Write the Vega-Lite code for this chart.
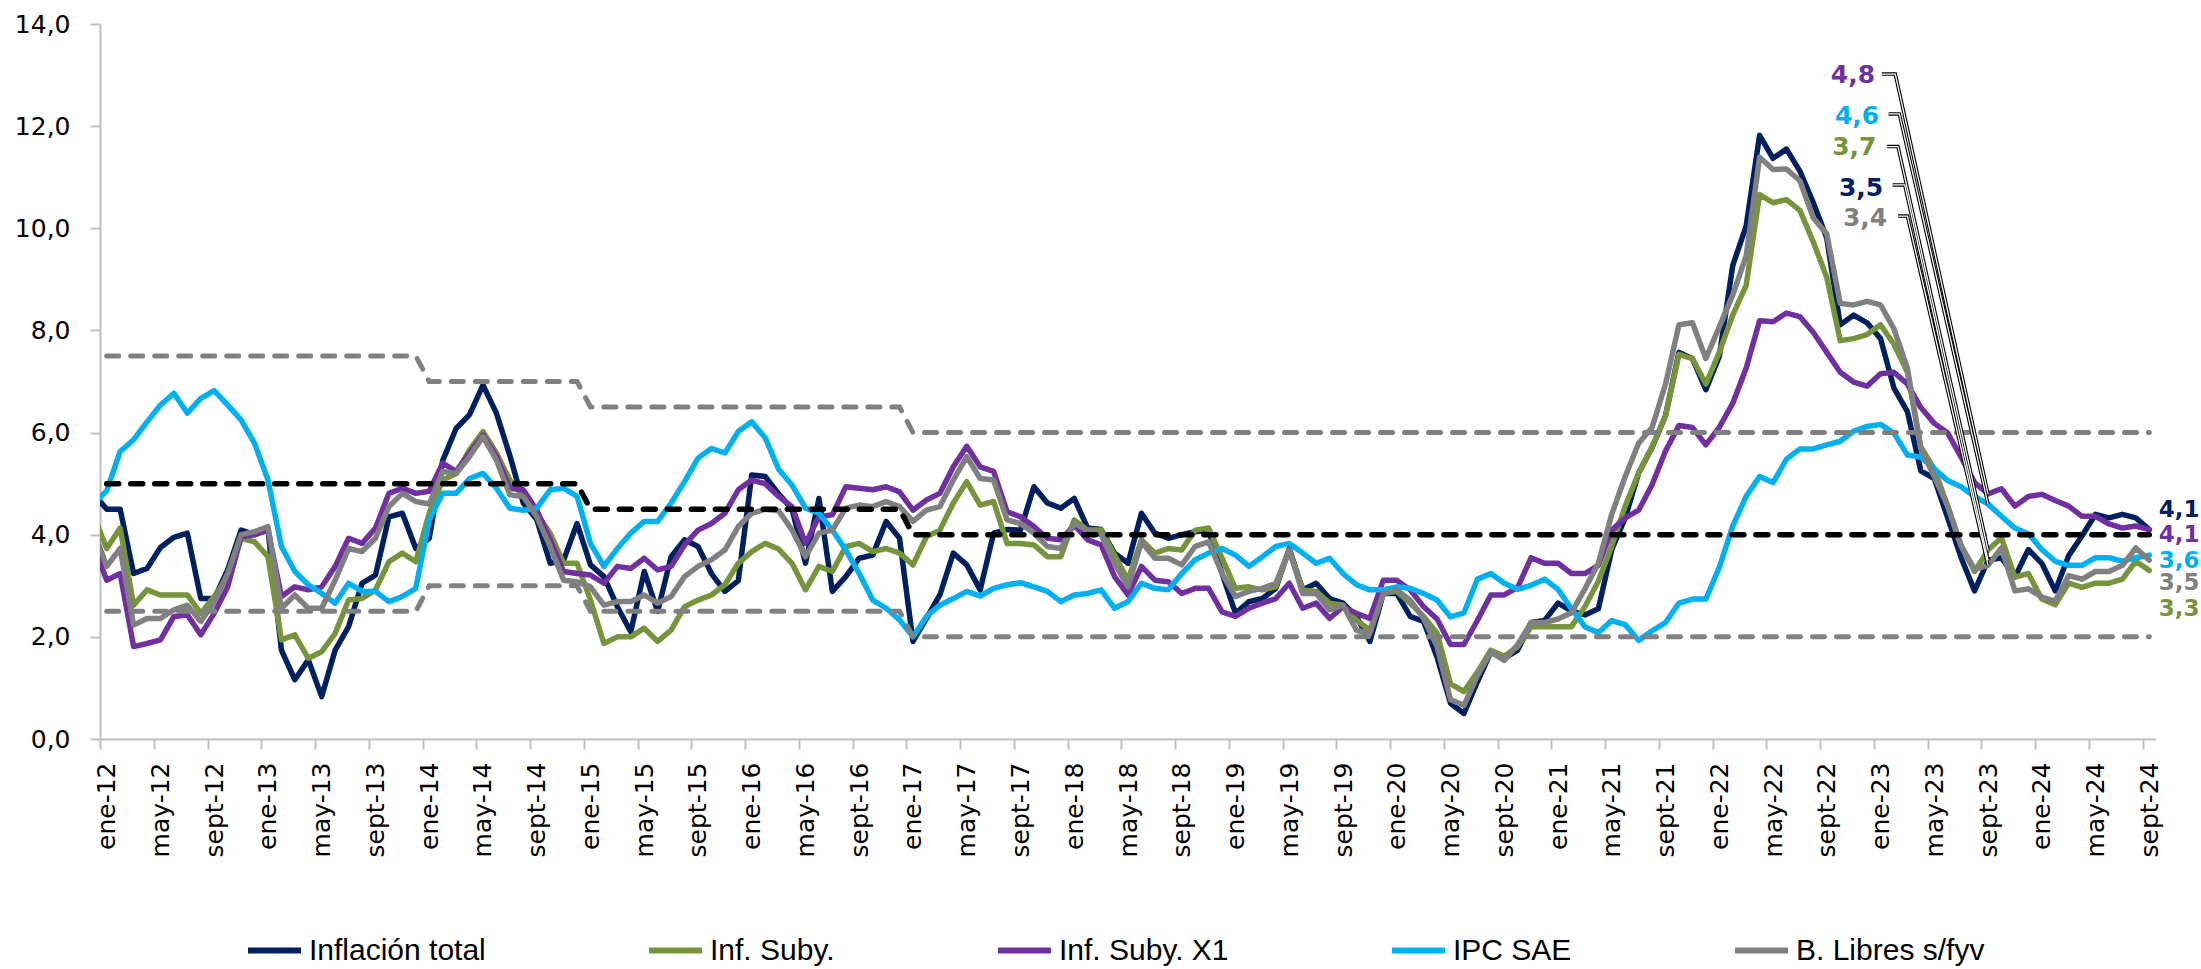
{
 "$schema": "https://vega.github.io/schema/vega-lite/v6.json",
 "width": 2056, "height": 715,
 "autosize": "none",
 "padding": {"left": 100, "top": 24, "right": 45, "bottom": 230},
 "background": "white",
 "config": {"view": {"stroke": null}, "font": "DejaVu Sans"},
 "datasets": {
  "serie": [
   {"i":-1,"t":4.8,"s":4.4,"x":3.8,"e":4.6,"b":4.1},
   {"i":0,"t":4.5,"s":3.73,"x":3.11,"e":4.86,"b":3.38},
   {"i":1,"t":4.5,"s":4.13,"x":3.24,"e":5.63,"b":3.73},
   {"i":2,"t":3.24,"s":2.62,"x":1.81,"e":5.86,"b":2.23},
   {"i":3,"t":3.34,"s":2.92,"x":1.87,"e":6.21,"b":2.36},
   {"i":4,"t":3.75,"s":2.82,"x":1.94,"e":6.54,"b":2.36},
   {"i":5,"t":3.95,"s":2.82,"x":2.4,"e":6.77,"b":2.53},
   {"i":6,"t":4.03,"s":2.82,"x":2.43,"e":6.38,"b":2.62},
   {"i":7,"t":2.75,"s":2.46,"x":2.04,"e":6.67,"b":2.3},
   {"i":8,"t":2.75,"s":2.79,"x":2.46,"e":6.82,"b":2.69},
   {"i":9,"t":3.31,"s":3.18,"x":2.98,"e":6.54,"b":3.24},
   {"i":10,"t":4.09,"s":3.93,"x":3.96,"e":6.25,"b":4.0},
   {"i":11,"t":4.0,"s":3.86,"x":4.0,"e":5.79,"b":4.06},
   {"i":12,"t":4.1,"s":3.57,"x":4.09,"e":5.07,"b":4.16},
   {"i":13,"t":1.74,"s":1.94,"x":2.79,"e":3.77,"b":2.56},
   {"i":14,"t":1.16,"s":2.04,"x":2.98,"e":3.28,"b":2.82},
   {"i":15,"t":1.55,"s":1.58,"x":2.92,"e":3.02,"b":2.56},
   {"i":16,"t":0.83,"s":1.71,"x":2.98,"e":2.85,"b":2.56},
   {"i":17,"t":1.74,"s":2.07,"x":3.38,"e":2.66,"b":3.11},
   {"i":18,"t":2.2,"s":2.72,"x":3.93,"e":3.05,"b":3.73},
   {"i":19,"t":3.05,"s":2.75,"x":3.83,"e":2.89,"b":3.67},
   {"i":20,"t":3.21,"s":2.92,"x":4.13,"e":2.89,"b":3.93},
   {"i":21,"t":4.35,"s":3.47,"x":4.81,"e":2.69,"b":4.55},
   {"i":22,"t":4.42,"s":3.64,"x":4.91,"e":2.79,"b":4.81},
   {"i":23,"t":3.73,"s":3.47,"x":4.81,"e":2.95,"b":4.65},
   {"i":24,"t":3.93,"s":4.42,"x":4.85,"e":4.29,"b":4.6},
   {"i":25,"t":5.45,"s":5.07,"x":5.4,"e":4.81,"b":5.24},
   {"i":26,"t":6.08,"s":5.2,"x":5.24,"e":4.81,"b":5.2},
   {"i":27,"t":6.35,"s":5.66,"x":5.6,"e":5.1,"b":5.53},
   {"i":28,"t":6.93,"s":6.02,"x":5.95,"e":5.2,"b":5.92},
   {"i":29,"t":6.38,"s":5.6,"x":5.53,"e":4.91,"b":5.46},
   {"i":30,"t":5.55,"s":5.07,"x":4.91,"e":4.52,"b":4.78},
   {"i":31,"t":4.62,"s":4.75,"x":4.88,"e":4.48,"b":4.75},
   {"i":32,"t":4.3,"s":4.42,"x":4.48,"e":4.52,"b":4.35},
   {"i":33,"t":3.44,"s":4.03,"x":3.9,"e":4.88,"b":3.77},
   {"i":34,"t":3.5,"s":3.44,"x":3.28,"e":4.91,"b":3.11},
   {"i":35,"t":4.22,"s":3.44,"x":3.24,"e":4.75,"b":3.08},
   {"i":36,"t":3.41,"s":2.72,"x":3.21,"e":3.83,"b":2.98},
   {"i":37,"t":3.18,"s":1.87,"x":3.05,"e":3.38,"b":2.62},
   {"i":38,"t":2.59,"s":2.0,"x":3.38,"e":3.73,"b":2.69},
   {"i":39,"t":2.1,"s":2.0,"x":3.34,"e":4.03,"b":2.69},
   {"i":40,"t":3.28,"s":2.17,"x":3.54,"e":4.26,"b":2.82},
   {"i":41,"t":2.5,"s":1.91,"x":3.31,"e":4.26,"b":2.66},
   {"i":42,"t":3.57,"s":2.13,"x":3.38,"e":4.62,"b":2.79},
   {"i":43,"t":3.9,"s":2.59,"x":3.8,"e":5.04,"b":3.18},
   {"i":44,"t":3.77,"s":2.72,"x":4.09,"e":5.5,"b":3.38},
   {"i":45,"t":3.24,"s":2.82,"x":4.22,"e":5.69,"b":3.51},
   {"i":46,"t":2.89,"s":3.02,"x":4.42,"e":5.6,"b":3.7},
   {"i":47,"t":3.1,"s":3.44,"x":4.88,"e":6.02,"b":4.16},
   {"i":48,"t":5.17,"s":3.67,"x":5.07,"e":6.21,"b":4.42},
   {"i":49,"t":5.14,"s":3.83,"x":5.0,"e":5.9,"b":4.5},
   {"i":50,"t":4.8,"s":3.72,"x":4.75,"e":5.28,"b":4.47},
   {"i":51,"t":4.5,"s":3.44,"x":4.55,"e":4.97,"b":4.09},
   {"i":52,"t":3.44,"s":2.92,"x":3.83,"e":4.52,"b":3.57},
   {"i":53,"t":4.71,"s":3.38,"x":4.35,"e":4.42,"b":4.03},
   {"i":54,"t":2.89,"s":3.28,"x":4.39,"e":4.09,"b":4.09},
   {"i":55,"t":3.18,"s":3.77,"x":4.94,"e":3.7,"b":4.52},
   {"i":56,"t":3.54,"s":3.83,"x":4.91,"e":3.24,"b":4.58},
   {"i":57,"t":3.6,"s":3.67,"x":4.88,"e":2.72,"b":4.55},
   {"i":58,"t":4.26,"s":3.73,"x":4.94,"e":2.56,"b":4.65},
   {"i":59,"t":3.93,"s":3.64,"x":4.84,"e":2.33,"b":4.55},
   {"i":60,"t":1.91,"s":3.41,"x":4.48,"e":2.0,"b":4.26},
   {"i":61,"t":2.36,"s":3.96,"x":4.68,"e":2.4,"b":4.48},
   {"i":62,"t":2.82,"s":4.09,"x":4.81,"e":2.62,"b":4.55},
   {"i":63,"t":3.64,"s":4.62,"x":5.33,"e":2.75,"b":5.07},
   {"i":64,"t":3.41,"s":5.04,"x":5.73,"e":2.89,"b":5.53},
   {"i":65,"t":2.92,"s":4.58,"x":5.33,"e":2.8,"b":5.1},
   {"i":66,"t":4.03,"s":4.65,"x":5.24,"e":2.95,"b":5.07},
   {"i":67,"t":4.1,"s":3.83,"x":4.45,"e":3.02,"b":4.29},
   {"i":68,"t":4.09,"s":3.83,"x":4.35,"e":3.06,"b":4.22},
   {"i":69,"t":4.94,"s":3.8,"x":4.16,"e":2.98,"b":4.03},
   {"i":70,"t":4.62,"s":3.57,"x":3.93,"e":2.89,"b":3.77},
   {"i":71,"t":4.52,"s":3.57,"x":3.9,"e":2.69,"b":3.73},
   {"i":72,"t":4.71,"s":4.29,"x":4.19,"e":2.82,"b":4.22},
   {"i":73,"t":4.13,"s":4.09,"x":3.9,"e":2.85,"b":4.09},
   {"i":74,"t":4.1,"s":4.09,"x":3.8,"e":2.92,"b":4.0},
   {"i":75,"t":3.64,"s":3.6,"x":3.18,"e":2.56,"b":3.44},
   {"i":76,"t":3.44,"s":3.11,"x":2.82,"e":2.69,"b":2.98},
   {"i":77,"t":4.42,"s":3.9,"x":3.38,"e":3.05,"b":3.86},
   {"i":78,"t":4.03,"s":3.64,"x":3.11,"e":2.95,"b":3.54},
   {"i":79,"t":3.93,"s":3.73,"x":3.08,"e":2.92,"b":3.54},
   {"i":80,"t":4.0,"s":3.7,"x":2.85,"e":3.24,"b":3.41},
   {"i":81,"t":4.06,"s":4.09,"x":2.95,"e":3.51,"b":3.77},
   {"i":82,"t":4.09,"s":4.13,"x":2.95,"e":3.64,"b":3.86},
   {"i":83,"t":3.24,"s":3.54,"x":2.49,"e":3.73,"b":3.24},
   {"i":84,"t":2.46,"s":2.95,"x":2.4,"e":3.6,"b":2.79},
   {"i":85,"t":2.69,"s":2.98,"x":2.56,"e":3.38,"b":2.89},
   {"i":86,"t":2.75,"s":2.92,"x":2.66,"e":3.57,"b":2.95},
   {"i":87,"t":2.95,"s":2.98,"x":2.75,"e":3.77,"b":3.05},
   {"i":88,"t":3.73,"s":3.7,"x":3.05,"e":3.83,"b":3.7},
   {"i":89,"t":2.92,"s":2.92,"x":2.56,"e":3.64,"b":2.85},
   {"i":90,"t":3.05,"s":2.89,"x":2.66,"e":3.44,"b":2.85},
   {"i":91,"t":2.75,"s":2.66,"x":2.36,"e":3.54,"b":2.53},
   {"i":92,"t":2.66,"s":2.62,"x":2.59,"e":3.24,"b":2.62},
   {"i":93,"t":2.4,"s":2.33,"x":2.46,"e":3.02,"b":2.13},
   {"i":94,"t":1.91,"s":2.13,"x":2.36,"e":2.92,"b":2.07},
   {"i":95,"t":2.85,"s":2.85,"x":3.11,"e":2.92,"b":2.85},
   {"i":96,"t":2.85,"s":2.89,"x":3.11,"e":2.98,"b":2.92},
   {"i":97,"t":2.4,"s":2.66,"x":2.92,"e":2.95,"b":2.72},
   {"i":98,"t":2.3,"s":2.4,"x":2.59,"e":2.85,"b":2.36},
   {"i":99,"t":1.6,"s":2.07,"x":2.35,"e":2.72,"b":1.81},
   {"i":100,"t":0.7,"s":1.08,"x":1.85,"e":2.39,"b":0.77},
   {"i":101,"t":0.5,"s":0.93,"x":1.85,"e":2.47,"b":0.66},
   {"i":102,"t":1.12,"s":1.31,"x":2.32,"e":3.13,"b":1.24},
   {"i":103,"t":1.7,"s":1.74,"x":2.82,"e":3.24,"b":1.7},
   {"i":104,"t":1.58,"s":1.62,"x":2.82,"e":3.05,"b":1.54},
   {"i":105,"t":1.74,"s":1.81,"x":2.97,"e":2.93,"b":1.85},
   {"i":106,"t":2.28,"s":2.2,"x":3.55,"e":3.01,"b":2.28},
   {"i":107,"t":2.32,"s":2.2,"x":3.44,"e":3.13,"b":2.28},
   {"i":108,"t":2.66,"s":2.2,"x":3.44,"e":2.93,"b":2.35},
   {"i":109,"t":2.51,"s":2.2,"x":3.24,"e":2.55,"b":2.47},
   {"i":110,"t":2.43,"s":2.59,"x":3.24,"e":2.2,"b":2.94},
   {"i":111,"t":2.55,"s":3.09,"x":3.4,"e":2.08,"b":3.44},
   {"i":112,"t":3.71,"s":3.78,"x":4.09,"e":2.32,"b":4.4},
   {"i":113,"t":4.33,"s":4.56,"x":4.33,"e":2.24,"b":5.14},
   {"i":114,"t":5.21,"s":5.21,"x":4.48,"e":1.93,"b":5.79},
   {"i":115,"t":5.71,"s":5.72,"x":4.98,"e":2.12,"b":6.1},
   {"i":116,"t":6.33,"s":6.33,"x":5.64,"e":2.28,"b":6.95},
   {"i":117,"t":7.57,"s":7.53,"x":6.14,"e":2.66,"b":8.11},
   {"i":118,"t":7.45,"s":7.45,"x":6.1,"e":2.74,"b":8.15},
   {"i":119,"t":6.84,"s":6.95,"x":5.76,"e":2.74,"b":7.45},
   {"i":120,"t":7.49,"s":7.57,"x":6.1,"e":3.36,"b":8.07},
   {"i":121,"t":9.27,"s":8.3,"x":6.57,"e":4.17,"b":8.69},
   {"i":122,"t":10.04,"s":8.88,"x":7.26,"e":4.75,"b":9.46},
   {"i":123,"t":11.82,"s":10.66,"x":8.19,"e":5.14,"b":11.39},
   {"i":124,"t":11.37,"s":10.5,"x":8.17,"e":5.02,"b":11.15},
   {"i":125,"t":11.55,"s":10.56,"x":8.34,"e":5.48,"b":11.16},
   {"i":126,"t":11.12,"s":10.35,"x":8.27,"e":5.68,"b":10.93},
   {"i":127,"t":10.5,"s":9.73,"x":7.96,"e":5.68,"b":10.2},
   {"i":128,"t":9.81,"s":9.04,"x":7.57,"e":5.76,"b":9.89},
   {"i":129,"t":8.11,"s":7.8,"x":7.18,"e":5.83,"b":8.53},
   {"i":130,"t":8.3,"s":7.84,"x":6.99,"e":6.03,"b":8.5},
   {"i":131,"t":8.15,"s":7.92,"x":6.91,"e":6.12,"b":8.57},
   {"i":132,"t":7.84,"s":8.11,"x":7.15,"e":6.16,"b":8.5},
   {"i":133,"t":6.87,"s":7.73,"x":7.18,"e":5.99,"b":8.03},
   {"i":134,"t":6.41,"s":7.18,"x":6.95,"e":5.56,"b":7.26},
   {"i":135,"t":5.25,"s":5.72,"x":6.49,"e":5.52,"b":5.68},
   {"i":136,"t":5.1,"s":5.29,"x":6.18,"e":5.29,"b":5.14},
   {"i":137,"t":4.33,"s":4.56,"x":5.99,"e":5.06,"b":4.56},
   {"i":138,"t":3.55,"s":3.78,"x":5.52,"e":4.94,"b":3.78},
   {"i":139,"t":2.9,"s":3.28,"x":5.02,"e":4.75,"b":3.32},
   {"i":140,"t":3.5,"s":3.7,"x":4.8,"e":4.6,"b":3.4},
   {"i":141,"t":3.55,"s":3.94,"x":4.9,"e":4.36,"b":3.74},
   {"i":142,"t":3.17,"s":3.17,"x":4.56,"e":4.13,"b":2.9},
   {"i":143,"t":3.71,"s":3.24,"x":4.75,"e":4.02,"b":2.94},
   {"i":144,"t":3.44,"s":2.74,"x":4.79,"e":3.71,"b":2.78},
   {"i":145,"t":2.9,"s":2.63,"x":4.67,"e":3.48,"b":2.7},
   {"i":146,"t":3.59,"s":3.05,"x":4.56,"e":3.4,"b":3.2},
   {"i":147,"t":3.98,"s":2.97,"x":4.36,"e":3.4,"b":3.13},
   {"i":148,"t":4.4,"s":3.05,"x":4.36,"e":3.55,"b":3.28},
   {"i":149,"t":4.33,"s":3.05,"x":4.21,"e":3.55,"b":3.28},
   {"i":150,"t":4.4,"s":3.13,"x":4.13,"e":3.48,"b":3.4},
   {"i":151,"t":4.33,"s":3.48,"x":4.17,"e":3.55,"b":3.74},
   {"i":152,"t":4.1,"s":3.3,"x":4.1,"e":3.6,"b":3.5}
  ],
  "banda": [
   {"i":0,"v":7.5,"g":"u"},{"i":23,"v":7.5,"g":"u"},{"i":24,"v":7,"g":"u"},{"i":35,"v":7,"g":"u"},{"i":36,"v":6.5,"g":"u"},{"i":59,"v":6.5,"g":"u"},{"i":60,"v":6,"g":"u"},{"i":152,"v":6,"g":"u"},
   {"i":0,"v":2.5,"g":"l"},{"i":23,"v":2.5,"g":"l"},{"i":24,"v":3,"g":"l"},{"i":35,"v":3,"g":"l"},{"i":36,"v":2.5,"g":"l"},{"i":59,"v":2.5,"g":"l"},{"i":60,"v":2,"g":"l"},{"i":152,"v":2,"g":"l"}
  ],
  "meta": [
   {"i":0,"v":5},{"i":35,"v":5},{"i":36,"v":4.5},{"i":59,"v":4.5},{"i":60,"v":4},{"i":152,"v":4}
  ],
  "lead": [
   {"k":"x","o":0,"i":132.1,"v":13.02},{"k":"x","o":1,"i":133.1,"v":13.02},{"k":"x","o":2,"i":140,"v":4.8},
   {"k":"e","o":0,"i":132.6,"v":12.24},{"k":"e","o":1,"i":133.4,"v":12.24},{"k":"e","o":2,"i":140,"v":4.6},
   {"k":"s","o":0,"i":132.5,"v":11.6},{"k":"s","o":1,"i":133.3,"v":11.6},{"k":"s","o":2,"i":140,"v":3.7},
   {"k":"t","o":0,"i":132.9,"v":10.85},{"k":"t","o":1,"i":133.8,"v":10.85},{"k":"t","o":2,"i":140,"v":3.5},
   {"k":"b","o":0,"i":133.3,"v":10.24},{"k":"b","o":1,"i":134.0,"v":10.24},{"k":"b","o":2,"i":140,"v":3.4}
  ],
  "callout": [
   {"k":"x","i":131.6,"v":13.0,"txt":"4,8"},
   {"k":"e","i":131.9,"v":12.2,"txt":"4,6"},
   {"k":"s","i":131.7,"v":11.59,"txt":"3,7"},
   {"k":"t","i":132.2,"v":10.79,"txt":"3,5"},
   {"k":"b","i":132.5,"v":10.2,"txt":"3,4"}
  ],
  "fin": [
   {"k":"t","i":152.7,"v":4.48,"txt":"4,1"},
   {"k":"x","i":152.7,"v":4.0,"txt":"4,1"},
   {"k":"e","i":152.7,"v":3.48,"txt":"3,6"},
   {"k":"b","i":152.7,"v":3.06,"txt":"3,5"},
   {"k":"s","i":152.7,"v":2.55,"txt":"3,3"}
  ]
 },
 "encoding": {
  "x": {"field": "i", "type": "quantitative",
        "scale": {"domain": [-0.5, 152.5], "nice": false, "zero": false},
        "axis": {"values": [0,4,8,12,16,20,24,28,32,36,40,44,48,52,56,60,64,68,72,76,80,84,88,92,96,100,104,108,112,116,120,124,128,132,136,140,144,148,152],
                 "labelExpr": "['ene','may','sept'][(datum.value/4)%3] + '-' + (12 + floor(datum.value/12))",
                 "labelAngle": 270, "labelFont": "DejaVu Sans", "labelFontSize": 25, "labelColor": "#000000",
                 "tickOffset": -6.72, "labelOffset": 6.72, "tickSize": 10, "tickColor": "#BFBFBF", "tickWidth": 2,
                 "domainColor": "#BFBFBF", "domainWidth": 2, "grid": false, "title": null, "labelPadding": 13,
                 "labelOverlap": false, "labelBound": false, "labelFlush": false}},
  "y": {"field": "v", "type": "quantitative",
        "scale": {"domain": [0, 14], "nice": false, "zero": true},
        "axis": {"values": [0,2,4,6,8,10,12,14],
                 "labelExpr": "replace(format(datum.value, '.1f'), '.', ',')",
                 "labelFont": "DejaVu Sans", "labelFontSize": 25, "labelColor": "#000000",
                 "tickSize": 10, "tickColor": "#BFBFBF", "tickWidth": 2,
                 "domainColor": "#BFBFBF", "domainWidth": 2, "grid": false, "title": null, "labelPadding": 20}}
 },
 "layer": [
  {
   "data": {"name": "serie"},
   "transform": [{"fold": ["t","s","x","e","b"], "as": ["k","v"]}],
   "mark": {"type": "line", "strokeWidth": 5.5, "strokeJoin": "round", "strokeCap": "round", "clip": true},
   "encoding": {
    "color": {"field": "k", "type": "nominal",
              "scale": {"domain": ["t","s","x","e","b"], "range": ["#002060","#77933C","#7030A0","#00B0F0","#808080"]},
              "legend": {"orient": "none", "legendX": 145, "legendY": 897, "direction": "horizontal", "title": null,
                         "symbolType": "stroke", "symbolSize": 2809, "symbolStrokeWidth": 6,
                         "labelFont": "Liberation Sans", "labelFontSize": 30, "labelColor": "#000000",
                         "columnPadding": 151, "gridAlign": "none", "labelOffset": 5, "labelLimit": 600,
                         "labelExpr": "datum.label == 't' ? 'Inflación total' : datum.label == 's' ? 'Inf. Suby.' : datum.label == 'x' ? 'Inf. Suby. X1' : datum.label == 'e' ? 'IPC SAE' : 'B. Libres s/fyv'"}}
   }
  },
  {
   "data": {"name": "banda"},
   "mark": {"type": "line", "color": "#808080", "strokeWidth": 5, "strokeDash": [12, 12], "strokeCap": "round"},
   "encoding": {"detail": {"field": "g", "type": "nominal"}}
  },
  {
   "data": {"name": "meta"},
   "mark": {"type": "line", "color": "#000000", "strokeWidth": 5.5, "strokeDash": [12, 12], "strokeCap": "round"},
   "encoding": {}
  },
  {
   "data": {"name": "lead"},
   "mark": {"type": "line", "color": "#000000", "strokeWidth": 3.5},
   "encoding": {
    "detail": {"field": "k", "type": "nominal"},
    "order": {"field": "o", "type": "quantitative"}
   }
  },
  {
   "data": {"name": "lead"},
   "mark": {"type": "line", "color": "#FFFFFF", "strokeWidth": 1.3},
   "encoding": {
    "detail": {"field": "k", "type": "nominal"},
    "order": {"field": "o", "type": "quantitative"}
   }
  },
  {
   "data": {"name": "callout"},
   "mark": {"type": "text", "font": "DejaVu Sans", "fontWeight": "bold", "fontSize": 25, "align": "right", "baseline": "middle"},
   "encoding": {
    "text": {"field": "txt"},
    "color": {"field": "k", "type": "nominal", "legend": null}
   }
  },
  {
   "data": {"name": "fin"},
   "mark": {"type": "text", "font": "DejaVu Sans", "fontWeight": "bold", "fontSize": 23, "align": "left", "baseline": "middle"},
   "encoding": {
    "text": {"field": "txt"},
    "color": {"field": "k", "type": "nominal", "legend": null}
   }
  }
 ]
}
